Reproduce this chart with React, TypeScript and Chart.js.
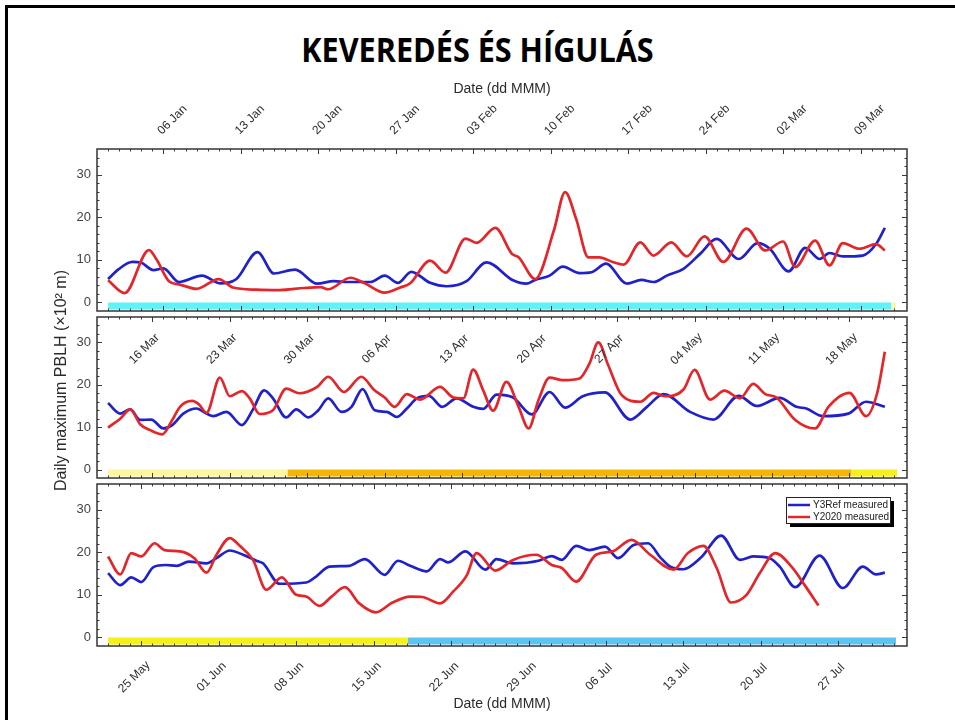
import React, { useEffect, useRef } from "react";
import { Chart, registerables } from "chart.js";

Chart.register(...registerables);

// ---------------- data ----------------
const YEAR = 2020;
const MONTHS = ["Jan", "Feb", "Mar", "Apr", "May", "Jun", "Jul", "Aug", "Sep", "Oct", "Nov", "Dec"];

const TITLE = "KEVEREDÉS ÉS HÍGULÁS";
const X_TITLE = "Date (dd MMM)";
const Y_TITLE = "Daily maximum PBLH (×10² m)";
const SERIES_NAMES = ["Y3Ref measured", "Y2020 measured"];
const SERIES_COLORS = ["#2121c9", "#e3262a"];

const Y_TICKS = [0, 10, 20, 30];

// first day of each panel
const PANEL_STARTS = ["01 Jan", "12 Mar", "22 May"];

// tick labels of each panel
const P1_TICKS = ["06 Jan", "13 Jan", "20 Jan", "27 Jan", "03 Feb", "10 Feb", "17 Feb", "24 Feb", "02 Mar", "09 Mar"];
const P2_TICKS = ["16 Mar", "23 Mar", "30 Mar", "06 Apr", "13 Apr", "20 Apr", "27 Apr", "04 May", "11 May", "18 May"];
const P3_TICKS = ["25 May", "01 Jun", "08 Jun", "15 Jun", "22 Jun", "29 Jun", "06 Jul", "13 Jul", "20 Jul", "27 Jul"];

// panel 1 (days counted from 01 Jan)
const P1_BLUE_DAYS = [0, 1, 2.2, 3, 4.1, 5, 6.4, 8.5, 10.1, 11.6, 13.5, 15, 16.9, 18.9, 20.4, 21.6, 23.7, 25, 26.2, 27.4, 29.1, 30.6, 32.4, 34.2, 36.6, 37.8, 38.6, 39.9, 41.1, 42.6, 43.7, 45, 46.9, 48.2, 49.3, 50.5, 52, 53.5, 55, 57, 58.7, 59.8, 61.5, 63, 64.3, 65.2, 66.4, 68.2, 69.4, 70.2];
const P1_BLUE = [5.5, 7.9, 9.5, 9.3, 7.6, 8.0, 4.8, 6.3, 4.5, 5.5, 11.8, 6.8, 7.7, 4.4, 5.0, 4.8, 4.8, 6.3, 4.6, 7.2, 4.6, 3.8, 5.0, 9.4, 5.2, 4.4, 5.3, 6.3, 8.4, 6.9, 7.1, 9.1, 4.4, 5.3, 4.8, 6.3, 7.9, 11.4, 14.9, 10.2, 13.9, 12.6, 7.3, 12.8, 10.2, 11.6, 10.8, 11.0, 13.7, 17.5];
const P1_RED_DAYS = [0, 1.5, 3.7, 4.4, 5.5, 6.5, 8, 10, 11.3, 13.4, 15.5, 17.7, 19.2, 19.9, 21.9, 23.2, 25, 26.4, 27.3, 29.1, 30.5, 32.3, 33.3, 35, 36.5, 37.1, 38.6, 40.3, 41.3, 42.3, 43.4, 44.4, 45.6, 46.6, 48.1, 49.3, 50.9, 52.3, 53.9, 55.6, 57.7, 59.4, 61, 62.1, 63.9, 65.2, 66.4, 67.9, 69.4, 70.2];
const P1_RED = [5.2, 2.2, 12.3, 10, 5, 4.2, 3.2, 5.5, 3.5, 3.0, 2.9, 3.4, 3.6, 3.1, 5.8, 4.5, 2.3, 3.5, 4.5, 9.8, 7.0, 15, 14, 17.5, 11.4, 10.6, 5.5, 17, 25.9, 19.6, 10.6, 10.6, 9.5, 8.9, 14.1, 11, 14.1, 10.8, 15.5, 9.5, 17.3, 12.2, 14.3, 8.3, 14.5, 8.7, 13.9, 12.6, 13.7, 12.2];

// panel 2 (days counted from 12 Mar)
const P2_BLUE_DAYS = [0, 1.1, 2, 2.9, 3.9, 5, 5.8, 6.8, 8, 8.9, 9.5, 10.7, 12.1, 13.1, 14.1, 14.9, 16.1, 17, 18.1, 19, 19.9, 21.1, 22, 23, 24.1, 25.2, 26.1, 27, 27.9, 29, 30.2, 31.5, 33, 33.9, 35.1, 36.6, 38.3, 39.9, 41.3, 42.9, 44.9, 47.2, 48.7, 50.2, 52.6, 54.7, 57, 58.6, 60.7, 62.2, 63.1, 64.6, 66.9, 68.5, 70.2];
const P2_BLUE = [15.7, 13.2, 14.2, 11.7, 11.8, 9.7, 10.5, 13.2, 14.4, 13.2, 12.6, 13.6, 10.5, 14.2, 18.7, 16.8, 12.3, 14.2, 12.3, 14, 16.8, 13.6, 14.8, 19, 14, 13.6, 12.4, 14.4, 16.8, 17.4, 14.8, 16.8, 14.8, 14.3, 17.7, 17, 13, 18.3, 14.6, 17.3, 18.2, 11.8, 14.8, 17.8, 13.6, 11.8, 17.4, 15, 16.9, 14.8, 14.4, 12.6, 13.2, 16, 14.8];
const P2_RED_DAYS = [0, 1.1, 2, 2.9, 3.8, 4.9, 5.8, 6.5, 7.6, 8.2, 8.9, 10.1, 11, 12.1, 12.8, 13.7, 14.9, 16.1, 17.3, 18.9, 19.9, 21.3, 22.9, 24, 25, 25.9, 27, 28.2, 30, 31.2, 32.1, 33, 33.9, 34.8, 36, 37.1, 38, 38.9, 39.9, 41.1, 42.6, 43.5, 44.3, 45.2, 46.4, 48.1, 49.3, 50.3, 52, 53, 54.4, 55.7, 57.1, 58.3, 59.4, 60.4, 62.1, 63.9, 65.1, 67, 68.5, 69.5, 70.2];
const P2_RED = [9.9, 12, 14.2, 10.7, 9.3, 8.3, 11.7, 14.8, 16.2, 15.4, 13.4, 21.7, 17.3, 18.5, 16.8, 13.1, 14, 19.1, 18, 19.5, 21.9, 18.3, 21.9, 18.9, 17, 14.8, 17.8, 16.5, 19.5, 17, 16.8, 23.6, 18.7, 13.9, 20.7, 14.8, 9.7, 16.4, 21.7, 21.1, 21.5, 25, 30, 24.6, 17.6, 16, 18.1, 17.3, 18.9, 23.5, 16.5, 18.6, 16.8, 20.2, 17.8, 17, 11.7, 9.7, 14.8, 18.1, 12.6, 18, 27.8];

// panel 3 (days counted from 22 May)
const P3_BLUE_DAYS = [0, 1.1, 2.1, 3, 4.1, 5.2, 6.2, 7.3, 8.9, 9.8, 11, 12.2, 13.4, 14, 15.5, 17.9, 18.8, 20, 21.8, 23.2, 25, 26.2, 27.3, 28.8, 30, 30.7, 32.3, 34.1, 35.1, 36.6, 38.9, 40.1, 41, 42.3, 43.5, 44.9, 46.1, 47.5, 48.8, 49.9, 50.8, 52, 53.6, 55.4, 57.1, 58.3, 59.8, 60.7, 62.1, 64.3, 66.4, 68.2, 69.4, 70.2];
const P3_BLUE = [15.1, 12.3, 14.1, 13, 16.5, 17, 16.8, 17.8, 17.4, 18.6, 20.4, 19.4, 18, 17.4, 12.6, 12.9, 14.3, 16.6, 16.8, 18.4, 14.7, 18, 16.8, 15.5, 18.4, 17.6, 20.2, 15.9, 18.4, 17.4, 18, 19.1, 18.2, 21.5, 20.5, 21.3, 18.6, 21.7, 22.1, 18.8, 16.6, 16, 18.8, 23.9, 18.2, 19, 18.6, 16.6, 11.8, 19.2, 11.6, 16.6, 14.8, 15.2];
const P3_RED_DAYS = [0, 1.1, 2.1, 3, 4.2, 5.1, 6.5, 7.8, 8.9, 9.8, 11, 11.9, 13.1, 14.3, 15.7, 17, 17.9, 19.1, 20.2, 21.4, 22.7, 24.2, 25.7, 27.3, 28.4, 30, 31.2, 32.4, 33.3, 35, 36.6, 38.7, 40.1, 41, 42.3, 44.1, 45.6, 47.3, 49, 51.1, 52.4, 53.8, 55, 56.3, 57.7, 58.9, 60.3, 61.8, 63, 64.2];
const P3_RED = [19, 14.8, 19.8, 19, 22.1, 20.5, 20.2, 18.6, 15.2, 19.4, 23.3, 21.5, 18.2, 11.2, 14.1, 10, 9.6, 7.4, 9.6, 11.8, 8, 5.9, 8.2, 9.6, 9.5, 8, 10.8, 14.5, 19.8, 15.7, 18.2, 19.4, 17, 16.3, 13.1, 19.4, 20.2, 22.9, 19.4, 15.9, 19.8, 21.5, 16.3, 8.2, 10, 15.1, 19.8, 16.5, 12.1, 7.5];

// period bands at the bottom of each panel (day ranges, relative to panel start)
const P1_BAND_FROM = [0, 70.8];
const P1_BAND_TO = [70.8, 71.2];
const P1_BAND_COLORS = ["#5ff2f7", "#fff7a8"];
const P2_BAND_FROM = [0, 16.2, 67.2];
const P2_BAND_TO = [16.2, 67.2, 71.3];
const P2_BAND_COLORS = ["#fff6a4", "#f3b702", "#f6f01a"];
const P3_BAND_FROM = [0, 27.1];
const P3_BAND_TO = [27.1, 71.2];
const P3_BAND_COLORS = ["#f4f018", "#5cc4f1"];

// ---------------- helpers ----------------
function dayOfYear(label: string): number {
  const [dd, mon] = label.split(" ");
  const m = MONTHS.indexOf(mon);
  return Math.round((Date.UTC(YEAR, m, +dd) - Date.UTC(YEAR, 0, 1)) / 86400000);
}

function points(start: number, days: number[], vals: number[]) {
  return days.map((d, i) => ({ x: start + d, y: vals[i] }));
}

const FONT = "'Liberation Sans', Arial, sans-serif";
const Y_MIN = -2;
const Y_MAX = 36;
const BAND_BOTTOM = -1.65;

type PanelCfg = {
  start: string;
  ticks: string[];
  labelMode: "top" | "inside" | "bottom";
  blueDays: number[];
  blue: number[];
  redDays: number[];
  red: number[];
  bandFrom: number[];
  bandTo: number[];
  bandColors: string[];
  top: number;
  bottom: number;
  yTitle?: boolean;
  legend?: boolean;
};

const PANELS: PanelCfg[] = [
  { start: PANEL_STARTS[0], ticks: P1_TICKS, labelMode: "top", blueDays: P1_BLUE_DAYS, blue: P1_BLUE, redDays: P1_RED_DAYS, red: P1_RED, bandFrom: P1_BAND_FROM, bandTo: P1_BAND_TO, bandColors: P1_BAND_COLORS, top: 149, bottom: 311 },
  { start: PANEL_STARTS[1], ticks: P2_TICKS, labelMode: "inside", blueDays: P2_BLUE_DAYS, blue: P2_BLUE, redDays: P2_RED_DAYS, red: P2_RED, bandFrom: P2_BAND_FROM, bandTo: P2_BAND_TO, bandColors: P2_BAND_COLORS, top: 317, bottom: 478, yTitle: true },
  { start: PANEL_STARTS[2], ticks: P3_TICKS, labelMode: "bottom", blueDays: P3_BLUE_DAYS, blue: P3_BLUE, redDays: P3_RED_DAYS, red: P3_RED, bandFrom: P3_BAND_FROM, bandTo: P3_BAND_TO, bandColors: P3_BAND_COLORS, top: 484, bottom: 646, legend: true },
];

const W = 955;
const H = 720;
const PLOT_LEFT = 97;
const PLOT_RIGHT = 907;

function makeDecor(cfg: PanelCfg) {
  return {
    id: "panelDecor",
    afterDraw(chart: any) {
      const { ctx, chartArea: a, scales } = chart;
      const x = scales.x;
      const y = scales.y;
      ctx.save();
      // ticks
      ctx.strokeStyle = "#3a3a3a";
      ctx.lineWidth = 1;
      const seg = (x1: number, y1: number, x2: number, y2: number) => {
        ctx.beginPath();
        ctx.moveTo(x1, y1);
        ctx.lineTo(x2, y2);
        ctx.stroke();
      };
      const firstMajor = dayOfYear(cfg.ticks[0]);
      for (let d = Math.ceil(x.min); d <= Math.floor(x.max); d++) {
        const px = Math.round(x.getPixelForValue(d)) + 0.5;
        if (px <= a.left + 1.5 || px >= a.right - 1.5) continue;
        const major = (((d - firstMajor) % 7) + 7) % 7 === 0;
        const len = major ? 5 : 2.5;
        seg(px, a.top, px, a.top + len);
        seg(px, a.bottom, px, a.bottom - len);
      }
      for (let v = Y_MIN; v <= Y_MAX; v += 2) {
        const py = Math.round(y.getPixelForValue(v)) + 0.5;
        if (py <= a.top + 1.5 || py >= a.bottom - 1.5) continue;
        const major = v % 10 === 0;
        const len = major ? 5 : 2.5;
        seg(a.left, py, a.left + len, py);
        seg(a.right, py, a.right - len, py);
      }
      // frame
      ctx.strokeStyle = "#353535";
      ctx.lineWidth = 1.5;
      ctx.strokeRect(a.left, a.top, a.right - a.left, a.bottom - a.top);

      // tick labels
      ctx.fillStyle = "#2e2e2e";
      ctx.font = `12px ${FONT}`;
      ctx.textAlign = "center";
      ctx.textBaseline = "middle";
      cfg.ticks.forEach((lab) => {
        const px = x.getPixelForValue(dayOfYear(lab));
        let cx = px, cy = 0;
        if (cfg.labelMode === "top") { cx = px + 9; cy = a.top - 29; }
        else if (cfg.labelMode === "inside") { cx = px - 8; cy = a.top + 32; }
        else { cx = px - 7; cy = a.bottom + 31; }
        ctx.save();
        ctx.translate(cx, cy);
        ctx.rotate(-Math.PI / 4);
        ctx.fillText(lab, 0, 0);
        ctx.restore();
      });

      // axis titles
      ctx.font = `14px ${FONT}`;
      ctx.fillStyle = "#2a2a2a";
      const midX = (a.left + a.right) / 2;
      if (cfg.labelMode === "top") ctx.fillText(X_TITLE, midX, a.top - 60);
      if (cfg.labelMode === "bottom") ctx.fillText(X_TITLE, midX, a.bottom + 58);
      if (cfg.yTitle) {
        ctx.save();
        ctx.translate(a.left - 35, (a.top + a.bottom) / 2 - 17);
        ctx.rotate(-Math.PI / 2);
        ctx.font = `16px ${FONT}`;
        ctx.fillText(Y_TITLE, 0, 0);
        ctx.restore();
      }

      // legend
      if (cfg.legend) {
        const bw = 104, bh = 26;
        const bx = a.right - 17 - bw;
        const by = a.top + 13;
        ctx.fillStyle = "#000";
        ctx.fillRect(bx + 4, by + 4, bw, bh);
        ctx.fillStyle = "#fff";
        ctx.fillRect(bx, by, bw, bh);
        ctx.strokeStyle = "#222";
        ctx.lineWidth = 1;
        ctx.strokeRect(bx + 0.5, by + 0.5, bw, bh);
        ctx.font = `10px ${FONT}`;
        ctx.textAlign = "left";
        SERIES_NAMES.forEach((name, i) => {
          const ly = by + 8 + i * 12;
          ctx.strokeStyle = SERIES_COLORS[i];
          ctx.lineWidth = 2.5;
          seg(bx + 2, ly, bx + 24, ly);
          ctx.fillStyle = "#222";
          ctx.fillText(name, bx + 27, ly + 0.5);
        });
      }
      ctx.restore();
    },
  };
}

function Panel({ cfg }: { cfg: PanelCfg }) {
  const ref = useRef<HTMLCanvasElement>(null);
  useEffect(() => {
    const start = dayOfYear(cfg.start);
    const lineStyle = {
      pointRadius: 0,
      borderWidth: 2.7,
      cubicInterpolationMode: "monotone" as const,
      fill: false,
    };
    const bands = cfg.bandFrom.map((f, i) => ({
      label: "band",
      data: [
        { x: start + f, y: 0 },
        { x: start + cfg.bandTo[i], y: 0 },
      ],
      borderWidth: 0,
      pointRadius: 0,
      tension: 0,
      backgroundColor: cfg.bandColors[i],
      borderColor: cfg.bandColors[i],
      fill: { value: BAND_BOTTOM },
      order: 2,
    }));
    const chart = new Chart(ref.current as HTMLCanvasElement, {
      type: "line",
      data: {
        datasets: [
          { label: SERIES_NAMES[1], data: points(start, cfg.redDays, cfg.red), borderColor: SERIES_COLORS[1], order: 0, ...lineStyle },
          { label: SERIES_NAMES[0], data: points(start, cfg.blueDays, cfg.blue), borderColor: SERIES_COLORS[0], order: 1, ...lineStyle },
          ...bands,
        ] as any,
      },
      options: {
        responsive: false,
        animation: false,
        events: [],
        layout: { padding: { top: cfg.top, bottom: H - cfg.bottom, left: 0, right: W - PLOT_RIGHT } },
        plugins: { legend: { display: false }, tooltip: { enabled: false }, title: { display: false } },
        scales: {
          x: { type: "linear", min: start - 1, max: start + 72.2, display: false },
          y: {
            min: Y_MIN,
            max: Y_MAX,
            afterBuildTicks: (s: any) => {
              s.ticks = Y_TICKS.map((v) => ({ value: v }));
            },
            afterFit: (s: any) => {
              s.width = PLOT_LEFT;
            },
            grid: { display: false, drawTicks: false },
            border: { display: false },
            ticks: { font: { family: FONT, size: 13 }, color: "#444", padding: 6 },
          },
        },
      } as any,
      plugins: [makeDecor(cfg)],
    });
    return () => chart.destroy();
  }, [cfg]);
  return (
    <canvas
      ref={ref}
      width={W}
      height={H}
      style={{ position: "absolute", left: 0, top: 0, width: W, height: H }}
    />
  );
}

export default function App() {
  return (
    <div style={{ position: "absolute", left: 0, top: 0, width: W, height: H, overflow: "hidden", background: "#fff" }}>
      <div
        style={{
          position: "absolute",
          left: 5,
          top: 5,
          width: W + 20,
          height: H + 20,
          borderLeft: "3px solid #000",
          borderTop: "3px solid #000",
        }}
      />
      <div
        style={{
          position: "absolute",
          left: 0,
          top: 32,
          width: W,
          textAlign: "center",
          fontFamily: "'Open Sans', sans-serif",
          fontWeight: 700,
          fontSize: 34,
          lineHeight: "34px",
          color: "#000",
          transform: "scaleX(0.9)",
        }}
      >
        {TITLE}
      </div>
      {PANELS.map((p, i) => (
        <Panel key={i} cfg={p} />
      ))}
    </div>
  );
}
